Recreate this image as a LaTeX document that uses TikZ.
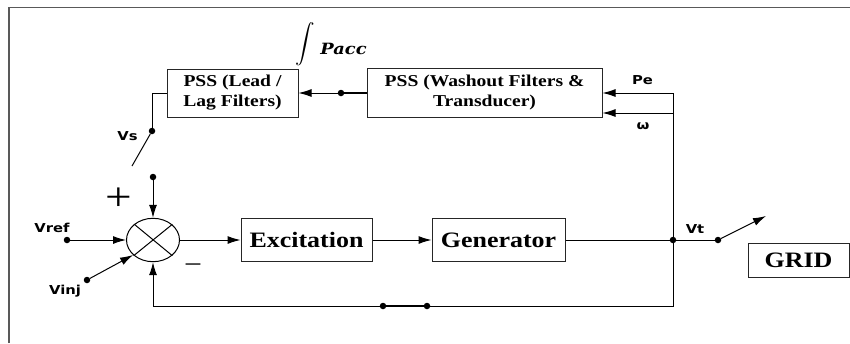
\documentclass[tikz,border=0pt]{standalone}
\usepackage{graphicx}
\usepackage{fontspec}
\setmainfont{Liberation Serif}[FakeStretch=1.18]
\newfontfamily\labfont{DejaVu Sans}[FakeStretch=1.2]
\newfontfamily\paccfont{DejaVu Serif}[FakeStretch=1.15]
\usetikzlibrary{shapes.geometric,arrows.meta}
\tikzset{
  blk/.style={draw=black!85, line width=1pt, inner sep=0pt, align=center,
    font=\bfseries\fontsize{22}{24}\selectfont},
  pss/.style={blk, font=\bfseries\fontsize{16.6}{20}\selectfont},
  lab/.style={font=\labfont\bfseries\fontsize{12.3}{13}\selectfont, inner sep=0pt,
    text height=9pt, text depth=0pt},
  wire/.style={line width=1pt},
  thk/.style={line width=2.2pt},
  arr/.style={wire, -{Latex[length=13pt,width=8pt]}},
  dot/.style={circle, fill, inner sep=0pt, minimum size=6.5pt},
  sgn/.style={inner sep=0pt}
}
\begin{document}
\begin{tikzpicture}[x=1pt,y=-1pt]
\useasboundingbox (0,0) rectangle (850,343);
% frame (left and top edges)
\draw[black!65, line width=1.6pt] (9,343) -- (9,7.5) -- (850,7.5);

% blocks
\node[pss, minimum width=131pt, minimum height=48pt] (ll) at (232.5,93) {PSS (Lead /\\Lag Filters)};
\node[pss, minimum width=235pt, minimum height=49pt] (wo) at (484.5,93) {PSS (Washout Filters \&\\Transducer)};
\node[blk, minimum width=131pt, minimum height=43pt] (exc) at (306.5,240) {Excitation};
\node[blk, minimum width=133pt, minimum height=43pt] (gen) at (498.5,240) {Generator};
\node[blk, minimum width=101pt, minimum height=34pt] (grid) at (798.5,260) {GRID};
\node[ellipse, draw, line width=1pt, minimum width=53pt, minimum height=43.4pt, inner sep=0pt] (sum) at (153,240) {};
\draw[wire] (sum.140.7) -- (sum.-39.3) (sum.39.3) -- (sum.219.3);

% integral label
\node[sgn] (int) at (305,44) {\scalebox{1.95}{$\displaystyle\int$}};
\node[font=\paccfont\bfseries\itshape\fontsize{15.5}{16}\selectfont, inner sep=0pt,
  text height=11pt, text depth=0pt] (pacc) at (343.5,48.5) {Pacc};

% PSS path
\node[dot] (d1) at (341,93) {};
\draw[thk] (wo.west |- d1) -- (d1);
\draw[arr] (d1) -- (ll.east |- d1);
\coordinate (pec) at (673,93);
\coordinate (wc) at (673,113);
\draw[arr] (pec) -- (pec -| wo.east);
\draw[arr] (wc) -- (wc -| wo.east);

\coordinate (llc) at (152,93);
\node[dot] (vsd) at (152,131) {};
\draw[wire] (ll.west) -- (llc) -- (vsd);
\coordinate (vse) at (132,166);
\draw[wire] (vsd) -- (vse);
\node[dot] (topd) at (153,177) {};
\draw[arr] (topd) -- (sum.north);

% inputs
\node[dot] (vrefd) at (67,240) {};
\draw[arr] (vrefd) -- (sum.west);
\node[dot] (vinjd) at (87,280) {};
\draw[arr] (vinjd) -- (sum.217);

% forward path
\draw[arr] (sum.east) -- (exc.west);
\draw[arr] (exc.east) -- (gen.west);
\node[dot] (j) at (673,240) {};
\node[dot] (vtd) at (718,240) {};
\draw[wire] (gen.east) -- (j) -- (vtd);
\coordinate (vte) at (766,216);
\draw[arr] (vtd) -- (vte);

% feedback
\coordinate (fbc) at (673,306);
\coordinate (fbl) at (153,306);
\node[dot] (fd1) at (383,306) {};
\node[dot] (fd2) at (427,306) {};
\draw[wire] (pec) -- (fbc) -- (fd2);
\draw[thk] (fd2) -- (fd1);
\draw[wire] (fd1) -- (fbl);
\draw[arr] (fbl) -- (sum.south);

% labels
\node[lab] (vref) at (52,228) {Vref};
\node[lab] (vinj) at (65,290) {Vinj};
\node[lab] (vs) at (127.5,136) {Vs};
\node[lab] (pe) at (642.5,79.5) {Pe};
\node[lab] (om) at (643,125) {ω};
\node[lab] (vt) at (695,229) {Vt};
\node[sgn, font=\fontsize{40}{40}\selectfont] (plus) at (119,199) {+};
\node[sgn, font=\fontsize{27}{27}\selectfont] (minus) at (193,269) {−};
\end{tikzpicture}
\end{document}
